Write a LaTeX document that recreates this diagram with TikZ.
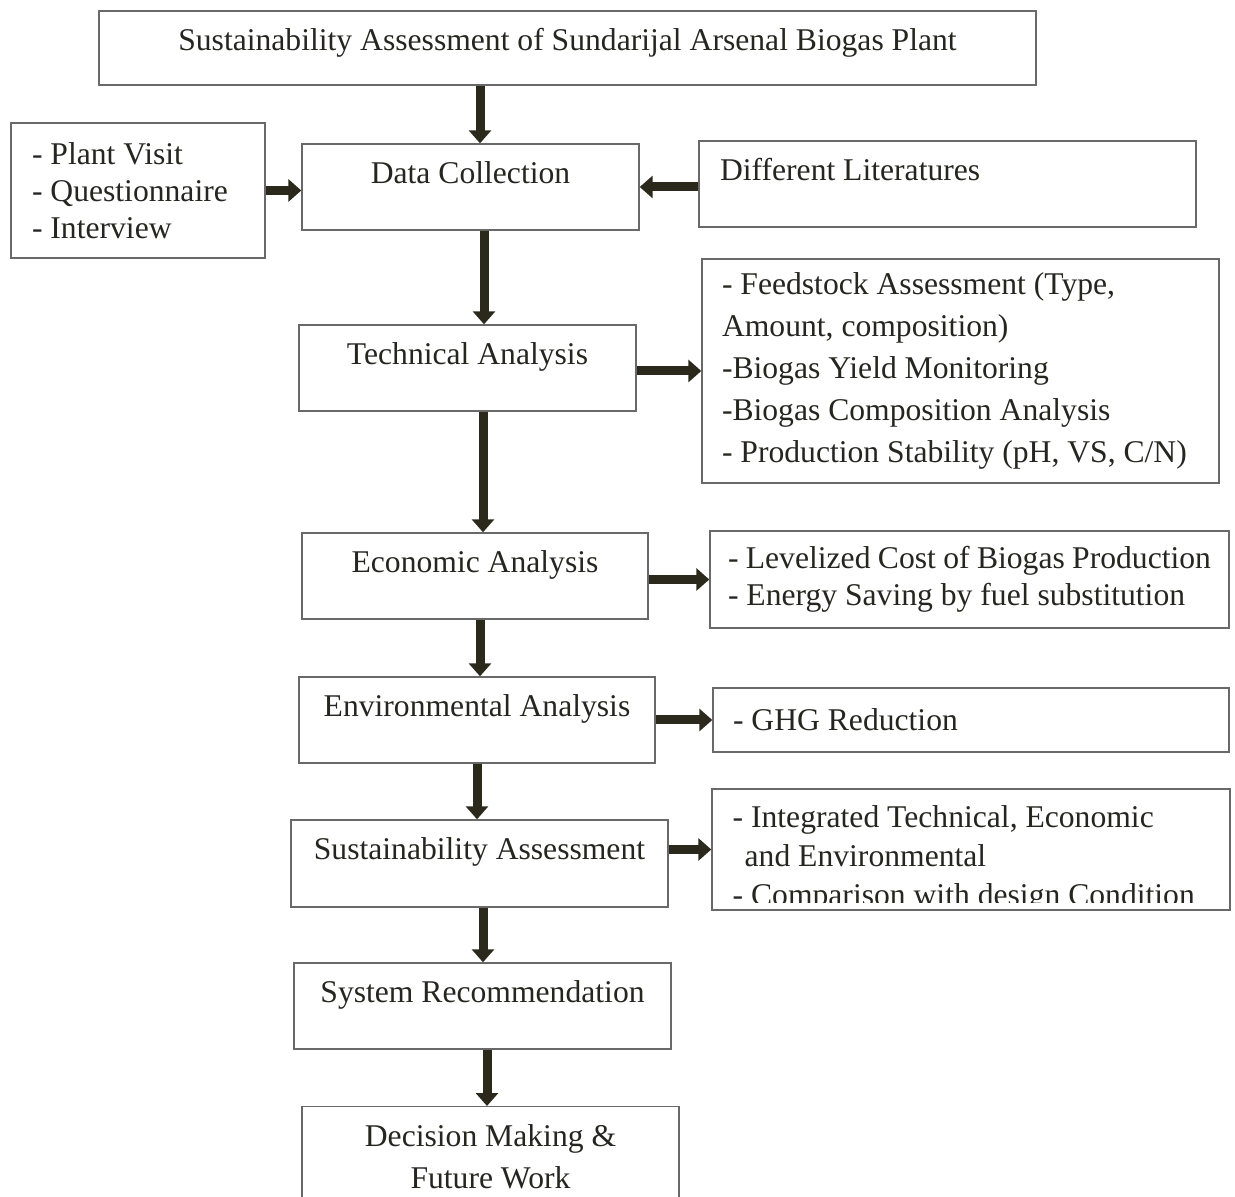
\documentclass[tikz,border=0pt]{standalone}
\usepackage{fontspec}
\setmainfont{Liberation Serif}
\usetikzlibrary{arrows.meta}
\usetikzlibrary{calc}
\definecolor{boxline}{RGB}{105,105,105}
\definecolor{arrowdark}{RGB}{43,41,28}
\definecolor{inkdark}{RGB}{38,38,32}

\begin{document}
\begin{tikzpicture}

\tikzstyle{stage}=[rectangle, draw=boxline, line width=0.8pt, text=inkdark, font=\fontsize{18}{23.9}\selectfont, inner ysep=0pt, text height=0.79cm, text depth=0.93cm, minimum height=1.72cm]
\tikzstyle{note}=[rectangle, draw=boxline, line width=0.8pt, text=inkdark, font=\fontsize{18}{23.9}\selectfont, align=flush left, inner xsep=0.4cm]
\tikzstyle{flow}=[draw=arrowdark, line width=0.18cm, -{Triangle[width=0.44cm,length=0.26cm]}]

\useasboundingbox (0,0) rectangle (24.70,-23.94);

\node[stage, minimum width=18.74cm, minimum height=1.48cm, text depth=0.69cm] (title) at (11.35,-0.96) {Sustainability Assessment of Sundarijal Arsenal Biogas Plant};

\node[note, minimum width=5.08cm, minimum height=2.70cm, text width=4.24cm, font=\fontsize{18}{21}\selectfont] (methods) at (2.76,-3.81) {- Plant Visit\\- Questionnaire\\- Interview};
\node[stage, minimum width=6.74cm] (collect) at (9.41,-3.74) {Data Collection};
\node[stage, minimum width=9.94cm, text width=9.10cm, align=flush left] (literature) at (18.95,-3.68) {Different Literatures};

\node[stage, minimum width=6.74cm] (technical) at (9.35,-7.36) {Technical Analysis};
\node[note, minimum width=10.34cm, minimum height=4.48cm, text width=9.54cm] (techlist) at (19.21,-7.42) {- Feedstock Assessment (Type,\\Amount, composition)\\-Biogas Yield Monitoring\\-Biogas Composition Analysis\\- Production Stability (pH, VS, C/N)};

\node[stage, minimum width=6.92cm] (economic) at (9.50,-11.52) {Economic Analysis};
\node[note, minimum width=10.38cm, minimum height=1.94cm, inner xsep=0.36cm, text width=9.66cm, font=\fontsize{18}{21}\selectfont] (econlist) at (19.39,-11.59) {- Levelized Cost of Biogas Production\\- Energy Saving by fuel substitution};

\node[stage, minimum width=7.12cm] (environ) at (9.54,-14.40) {Environmental Analysis};
\node[note, minimum width=10.32cm, minimum height=1.28cm, text width=9.52cm] (envlist) at (19.42,-14.40) {- GHG Reduction};

\node[stage, minimum width=7.54cm, minimum height=1.74cm, text depth=0.95cm] (sustain) at (9.59,-17.27) {Sustainability Assessment};
\node[note, minimum width=10.36cm, minimum height=2.42cm] (sustlist) at (19.42,-16.99) {};
\begin{scope}
\clip ($(sustlist.south west)+(0,0.16)$) rectangle (sustlist.north east);
\node[anchor=north west, inner sep=0pt, text=inkdark, font=\fontsize{18}{22.2}\selectfont, align=flush left] (susttext) at ($(sustlist.north west)+(0.42,-0.33)$) {- Integrated Technical, Economic\\\hspace*{0.24cm}and Environmental\\- Comparison with design Condition};
\end{scope}

\node[stage, minimum width=7.54cm] (recommend) at (9.65,-20.12) {System Recommendation};
\node[rectangle, draw=boxline, line width=0.8pt, text=inkdark, font=\fontsize{18}{23.9}\selectfont, align=center, anchor=north, minimum width=7.54cm, inner ysep=0.36cm] (decision) at (9.81,-22.12) {Decision Making \&\\Future Work};

\draw[flow] ($(title.south -| collect.north)+(0.19,0)$) -- ($(collect.north)+(0.19,0)$);
\draw[flow] (methods.east) -- (methods.east -| collect.west);
\draw[flow] (literature.west |- collect.east) -- (collect.east);
\draw[flow] ($(collect.south)+(0.27,0)$) -- ($(collect.south |- technical.north)+(0.27,0)$);
\draw[flow] (technical.east |- techlist.west) -- (techlist.west);
\draw[flow] ($(technical.south)+(0.31,0)$) -- ($(technical.south |- economic.north)+(0.31,0)$);
\draw[flow] (economic.east |- econlist.west) -- (econlist.west);
\draw[flow] ($(economic.south)+(0.10,0)$) -- ($(economic.south |- environ.north)+(0.10,0)$);
\draw[flow] (environ.east) -- (envlist.west);
\draw[flow] (environ.south) -- (environ.south |- sustain.north);
\draw[flow] (sustain.east |- sustlist.west) -- (sustlist.west);
\draw[flow] ($(sustain.south)+(0.07,0)$) -- ($(sustain.south |- recommend.north)+(0.07,0)$);
\draw[flow] ($(recommend.south)+(0.09,0)$) -- ($(recommend.south |- decision.north)+(0.09,0)$);

\end{tikzpicture}
\end{document}
